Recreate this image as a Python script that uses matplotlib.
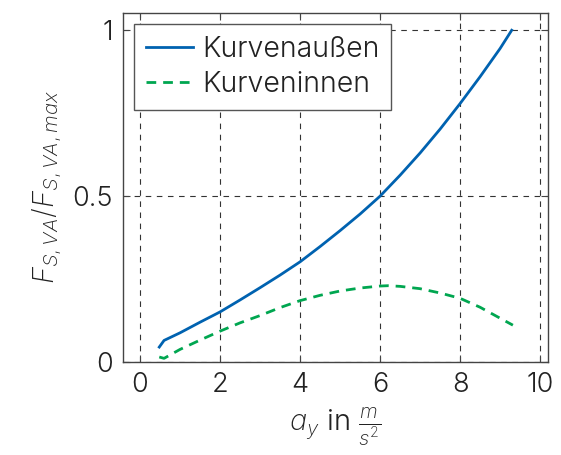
import matplotlib
matplotlib.use("Agg")
import matplotlib.pyplot as plt

plt.rcParams['font.family'] = ['Inter', 'DejaVu Sans']
plt.rcParams['font.weight'] = 300
plt.rcParams['axes.labelweight'] = 300
plt.rcParams['mathtext.fontset'] = 'custom'
plt.rcParams['mathtext.rm'] = 'Inter:light'
plt.rcParams['mathtext.it'] = 'Inter:italic:light'

# lateral acceleration a_y in m/s^2
ay_out = [0.48, 0.6, 1, 1.5, 2, 2.5, 3, 3.5, 4, 4.5, 5, 5.5, 6, 6.5, 7, 7.5, 8, 8.5, 9, 9.29]
f_out = [0.045, 0.065, 0.088, 0.12, 0.151, 0.187, 0.224, 0.262, 0.302, 0.348, 0.396,
         0.446, 0.5, 0.563, 0.63, 0.702, 0.779, 0.86, 0.945, 1.0]

ay_in = [0.48, 0.6, 1, 1.5, 2, 2.5, 3, 3.5, 4, 4.5, 5, 5.5, 6, 6.2, 6.5, 7, 7.5, 8, 8.5, 9, 9.32]
f_in = [0.015, 0.011, 0.038, 0.066, 0.093, 0.118, 0.14, 0.164, 0.185, 0.201, 0.214,
        0.223, 0.229, 0.23, 0.228, 0.221, 0.208, 0.192, 0.165, 0.132, 0.111]

xticks = [0, 2, 4, 6, 8, 10]
yticks = [0, 0.5, 1]
ytick_labels = ['0', '0.5', '1']

fig = plt.figure(figsize=(5.61, 4.55), dpi=100)
ax = fig.add_axes([0.219, 0.2044, 0.758, 0.767])

ax.plot(ay_out, f_out, color='#0062b0', lw=2, label='Kurvenaußen')
ax.plot(ay_in, f_in, color='#00a650', lw=2, ls=(0, (3.5, 2.5)), label='Kurveninnen')

ax.set_xlim(-0.43, 10.2)
ax.set_ylim(0, 1.052)
ax.set_xticks(xticks)
ax.set_yticks(yticks)
ax.set_yticklabels(ytick_labels)
ax.grid(True, color='#333333', ls=(0, (5, 5)), lw=0.8)
ax.tick_params(direction='in', top=True, right=True, length=5, width=0.8,
               color='#444444', labelsize=19.5, labelcolor='#222222', pad=7)
for s in ax.spines.values():
    s.set_color('#444444')
    s.set_linewidth(1)

ax.set_xlabel(r'$a_y$ in $\frac{m}{s^2}$', fontsize=21, color='#222222', labelpad=6)
ax.set_ylabel(r'$F_{S,VA}/F_{S,VA,max}$', fontsize=21, color='#222222', labelpad=6)

leg = ax.legend(loc='upper left', fontsize=20.5, fancybox=False, framealpha=1,
                edgecolor='#555555', borderpad=0.4, handlelength=1.65,
                handletextpad=0.35, labelspacing=0.3, borderaxespad=0.4)
leg.get_frame().set_linewidth(1)
for t in leg.get_texts():
    t.set_color('#222222')

fig.savefig('out.png', dpi=100)
